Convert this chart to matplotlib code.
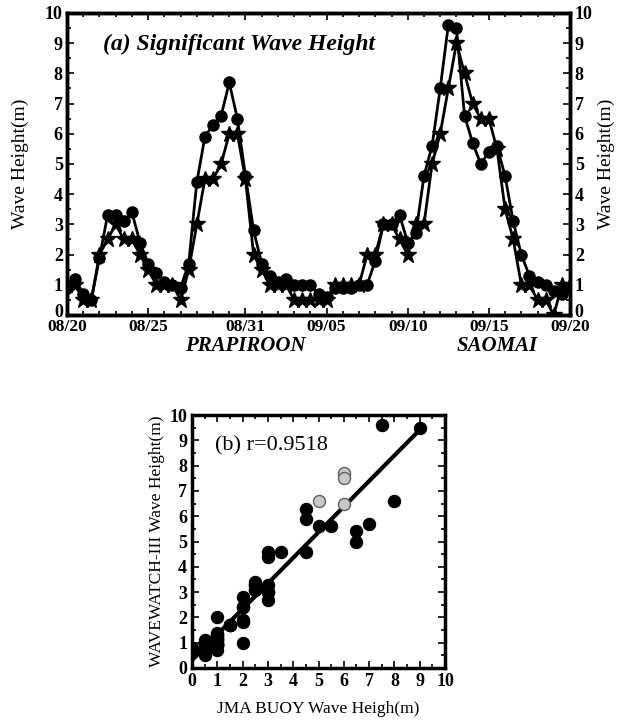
import numpy as np
import pandas as pd
import matplotlib
matplotlib.use("Agg")
import matplotlib.pyplot as plt
import matplotlib.dates as mdates
from matplotlib.ticker import MultipleLocator
from matplotlib.transforms import ScaledTranslation

plt.rcParams['font.family'] = ['Liberation Serif', 'DejaVu Serif']

# 12-hourly samples, 2000-08-20 .. 2000-09-20
times = pd.date_range("2000-08-20", "2000-09-20", freq="12h")

# WAVEWATCH-III (circles)
ww3 = [0.9, 1.2, 0.7, 0.5, 1.9, 3.3, 3.3, 3.1, 3.4, 2.4,
       1.7, 1.4, 1.1, 1.0, 0.9, 1.7, 4.4, 5.9, 6.3, 6.6,
       7.7, 6.5, 4.6, 2.8, 1.7, 1.3, 1.1, 1.2, 1.0, 1.0,
       1.0, 0.7, 0.6, 0.9, 0.9, 0.9, 1.0, 1.0, 1.8, 3.0,
       3.0, 3.3, 2.4, 2.7, 4.6, 5.6, 7.5, 9.6, 9.5, 6.6,
       5.7, 5.0, 5.4, 5.6, 4.6, 3.1, 2.0, 1.3, 1.1, 1.0,
       0.8, 0.7, 0.9]

# JMA buoy (stars)
buoy = [1.0, 1.0, 0.5, 0.5, 2.0, 2.5, 3.0, 2.5, 2.5, 2.0,
        1.5, 1.0, 1.0, 1.0, 0.5, 1.5, 3.0, 4.5, 4.5, 5.0,
        6.0, 6.0, 4.5, 2.0, 1.5, 1.0, 1.0, 1.0, 0.5, 0.5,
        0.5, 0.5, 0.5, 1.0, 1.0, 1.0, 1.0, 2.0, 2.0, 3.0,
        3.0, 2.5, 2.0, 3.0, 3.0, 5.0, 6.0, 7.5, 9.0, 8.0,
        7.0, 6.5, 6.5, 5.5, 3.5, 2.5, 1.0, 1.0, 0.5, 0.5,
        0.0, 1.0, 1.0]

tick_dates = ["2000-08-20", "2000-08-25", "2000-08-31", "2000-09-05",
              "2000-09-10", "2000-09-15", "2000-09-20"]
tick_labels = ["08/20", "08/25", "08/31", "09/05", "09/10", "09/15", "09/20"]
height_ticks = list(range(11))
faded = [19, 20, 21, 46]   # lighter dots in scatter
r_value = 0.9518

ww3 = np.array(ww3)
buoy = np.array(buoy)

fig = plt.figure(figsize=(6.25, 7.27), dpi=100)
W, H = 625, 727

def style(ax, size=13):
    for s in ax.spines.values():
        s.set_linewidth(2.5)
    ax.tick_params(which='both', direction='in', top=True, width=1.2,
                   labelsize=size)
    ax.tick_params(which='major', length=5)
    ax.tick_params(which='minor', length=3)
    for lab in ax.get_xticklabels() + ax.get_yticklabels():
        lab.set_fontweight('bold')

def lift_zero(ax):
    # the "0" sits a little above the corner so it clears the date label
    lab = ax.get_yticklabels()[0]
    lab.set_transform(lab.get_transform() +
                      ScaledTranslation(0, 3.5 / 72, fig.dpi_scale_trans))

# ---- (a) time series
ax1 = fig.add_axes([67 / W, 1 - 315 / H, 503 / W, 302 / H])
ax1.plot(times, buoy, color='k', lw=2, marker='*', ms=12)
ax1.plot(times, ww3, color='k', lw=2, marker='o', ms=8)
ax1.set_xlim(times[0], times[-1])
ax1.set_ylim(0, 10)
ax1.set_xticks(pd.to_datetime(tick_dates))
ax1.set_xticklabels(tick_labels)
ax1.xaxis.set_minor_locator(mdates.DayLocator())
ax1.set_yticks(height_ticks)
ax1.yaxis.set_minor_locator(MultipleLocator(0.5))
ax1.set_ylabel("Wave Height(m)", fontsize=14)
ax1.yaxis.set_label_coords(-0.075, 0.5)
style(ax1)
ax1.tick_params(axis='x', pad=3, labelsize=12.5)
ax1.tick_params(axis='y', right=False, pad=3)
lift_zero(ax1)
ax1.text(0.072, 0.895, "(a) Significant Wave Height", transform=ax1.transAxes,
         fontsize=17, fontweight='bold', style='italic', va='center')

ax1r = ax1.twinx()
ax1r.set_ylim(0, 10)
ax1r.set_yticks(height_ticks)
ax1r.yaxis.set_minor_locator(MultipleLocator(0.5))
ax1r.set_ylabel("Wave Height(m)", fontsize=14)
ax1r.yaxis.set_label_coords(1.055, 0.5)
style(ax1r)
ax1r.tick_params(which='both', top=False, left=False)
lift_zero(ax1r)

fig.text(245 / W, 1 - 346 / H, "PRAPIROON", fontsize=15, fontweight='bold',
         style='italic', ha='center', va='center')
fig.text(497 / W, 1 - 346 / H, "SAOMAI", fontsize=15, fontweight='bold',
         style='italic', ha='center', va='center')

# ---- (b) scatter
ax2 = fig.add_axes([192 / W, 1 - 668 / H, 253 / W, 253 / H])
mask = np.zeros(len(buoy), bool)
mask[faded] = True
ax2.scatter(buoy[~mask], ww3[~mask], s=75, color='k', zorder=3)
ax2.scatter(buoy[mask], ww3[mask], s=75, facecolor='#c8c8c8',
            edgecolor='#606060', zorder=3)
slope, icpt = np.polyfit(buoy, ww3, 1)
xl = np.array([buoy.min(), buoy.max()])
ax2.plot(xl, slope * xl + icpt, color='k', lw=3, zorder=2)
ax2.set_xlim(0, 10)
ax2.set_ylim(0, 10)
for a in (ax2.xaxis, ax2.yaxis):
    a.set_major_locator(MultipleLocator(1))
    a.set_minor_locator(MultipleLocator(0.5))
ax2.tick_params(which='both', right=True)
style(ax2)
ax2.set_xlabel("JMA BUOY Wave Heigh(m)", fontsize=12.5, labelpad=8)
ax2.set_ylabel("WAVEWATCH-III Wave Height(m)", fontsize=12.5, labelpad=3)
ax2.text(0.09, 0.88, "(b) r=%.4f" % r_value, transform=ax2.transAxes,
         fontsize=16, va='center')

fig.savefig("out.png", dpi=100)
